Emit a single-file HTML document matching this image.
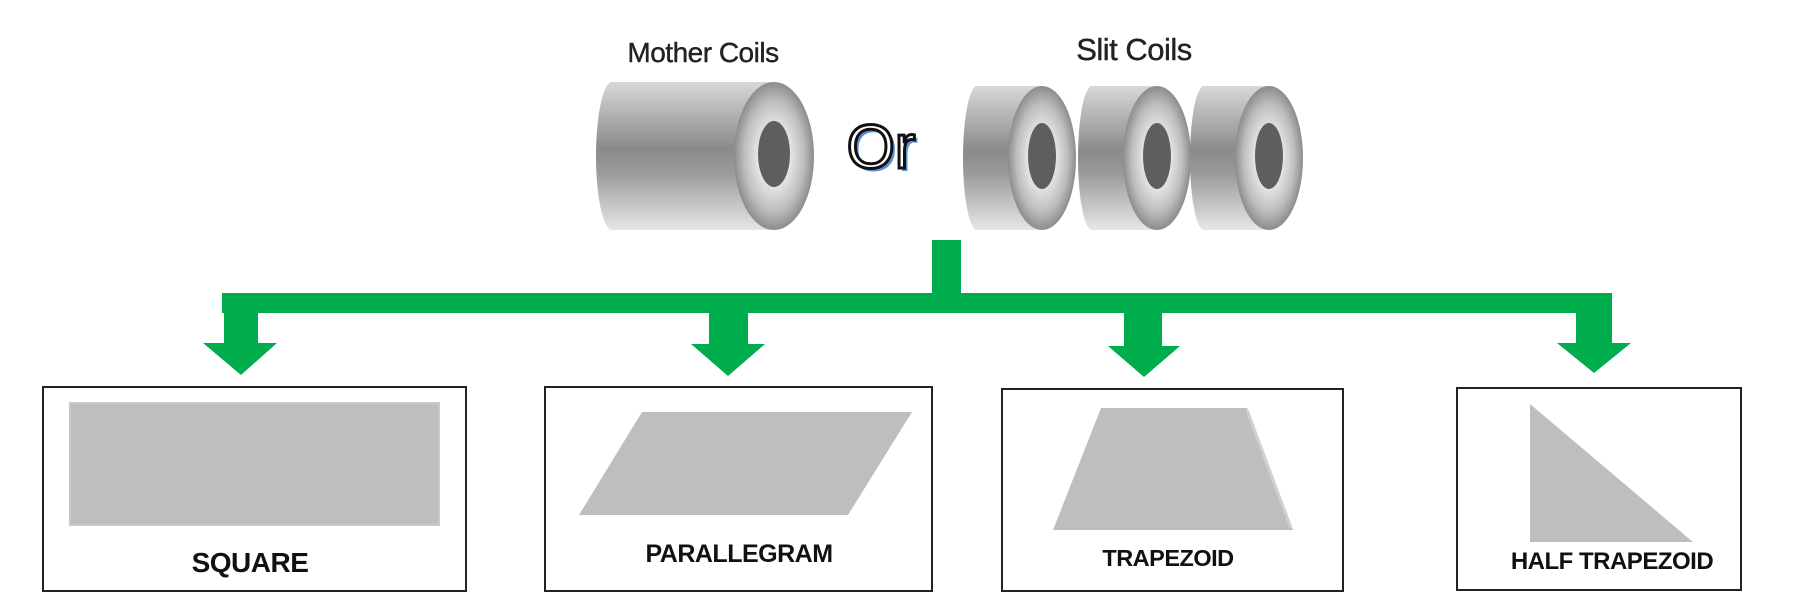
<!DOCTYPE html>
<html><head><meta charset="utf-8"><style>
html,body{margin:0;padding:0;background:#fff;width:1804px;height:597px;overflow:hidden}
svg{display:block}
text{font-family:"Liberation Sans",sans-serif}
</style></head><body>
<svg width="1804" height="597" viewBox="0 0 1804 597" xmlns="http://www.w3.org/2000/svg">
<defs>
<linearGradient id="body" x1="0" y1="0" x2="0" y2="1">
<stop offset="0" stop-color="#d8d8d8"/><stop offset="0.45" stop-color="#8a8a8a"/><stop offset="0.6" stop-color="#999"/><stop offset="1" stop-color="#e6e6e6"/>
</linearGradient>
<radialGradient id="face" cx="0.5" cy="0.5" r="0.5">
<stop offset="0.3" stop-color="#f2f2f2"/><stop offset="0.75" stop-color="#bdbdbd"/><stop offset="1" stop-color="#8c8c8c"/>
</radialGradient>
</defs>
<rect width="1804" height="597" fill="#fff"/>

<!-- titles -->
<text x="703" y="62" font-size="28" text-anchor="middle" fill="#222" stroke="#222" stroke-width="0.4" letter-spacing="-0.5">Mother Coils</text>
<text x="1134" y="60" font-size="31" text-anchor="middle" fill="#222" stroke="#222" stroke-width="0.4" letter-spacing="-0.5">Slit Coils</text>
<text x="884" y="171" font-size="62" text-anchor="middle" fill="#5b8fd6">Or</text>
<text x="881" y="168" font-size="62" text-anchor="middle" fill="#fff" stroke="#111" stroke-width="3">Or</text>

<!-- mother coil -->
<g>
<rect x="610" y="82" width="164" height="148" fill="url(#body)"/>
<ellipse cx="612" cy="156" rx="16" ry="74" fill="url(#body)"/>
<ellipse cx="774" cy="156" rx="40" ry="74" fill="url(#face)"/>
<ellipse cx="774" cy="154" rx="16" ry="33" fill="#5e5e5e"/>
</g>
<!-- slit coils -->
<g>
<rect x="975" y="86" width="67" height="144" fill="url(#body)"/>
<ellipse cx="977" cy="158" rx="14" ry="72" fill="url(#body)"/>
<ellipse cx="1042" cy="158" rx="34" ry="72" fill="url(#face)"/>
<ellipse cx="1042" cy="156" rx="14" ry="33" fill="#5e5e5e"/>
</g>
<g>
<rect x="1090" y="86" width="67" height="144" fill="url(#body)"/>
<ellipse cx="1092" cy="158" rx="14" ry="72" fill="url(#body)"/>
<ellipse cx="1157" cy="158" rx="34" ry="72" fill="url(#face)"/>
<ellipse cx="1157" cy="156" rx="14" ry="33" fill="#5e5e5e"/>
</g>
<g>
<rect x="1202" y="86" width="67" height="144" fill="url(#body)"/>
<ellipse cx="1204" cy="158" rx="14" ry="72" fill="url(#body)"/>
<ellipse cx="1269" cy="158" rx="34" ry="72" fill="url(#face)"/>
<ellipse cx="1269" cy="156" rx="14" ry="33" fill="#5e5e5e"/>
</g>

<!-- green connectors -->
<g fill="#00ad4c">
<rect x="932" y="240" width="29" height="55"/>
<rect x="222" y="293" width="1390" height="20"/>
<polygon points="224,313 258,313 258,343 277,343 241,375 203,343 224,343"/>
<polygon points="709,313 748,313 748,344 765,344 728,376 691,344 709,344"/>
<polygon points="1124,313 1162,313 1162,346 1180,346 1144,377 1108,346 1124,346"/>
<polygon points="1576,313 1612,313 1612,343 1631,343 1594,373 1557,343 1576,343"/>
</g>

<!-- boxes -->
<g fill="#fff" stroke="#222" stroke-width="2">
<rect x="43" y="387" width="423" height="204"/>
<rect x="545" y="387" width="387" height="204"/>
<rect x="1002" y="389" width="341" height="202"/>
<rect x="1457" y="388" width="284" height="202"/>
</g>

<!-- shapes -->
<rect x="70" y="403" width="369" height="122" fill="#bebebe" stroke="#c8c8c8" stroke-width="2"/>
<polygon points="642,412 912,412 848,515 579,515" fill="#bebebe"/>
<polygon points="1101,408 1247,408 1293,530 1053,530" fill="#bebebe"/>
<line x1="1247" y1="410" x2="1291" y2="528" stroke="#d0d0d0" stroke-width="3"/>
<polygon points="1530,404 1693,542 1530,542" fill="#bebebe"/>
<line x1="1533" y1="404" x2="1693" y2="540" stroke="#fff" stroke-width="3"/>

<!-- labels -->
<g font-weight="bold" fill="#111" text-anchor="middle">
<text x="250" y="572" font-size="28" letter-spacing="-0.5">SQUARE</text>
<text x="739" y="562" font-size="25" letter-spacing="-0.5">PARALLEGRAM</text>
<text x="1168" y="566" font-size="23.5" letter-spacing="-0.5">TRAPEZOID</text>
<text x="1612" y="569" font-size="24" letter-spacing="-0.5">HALF TRAPEZOID</text>
</g>
</svg>
</body></html>
